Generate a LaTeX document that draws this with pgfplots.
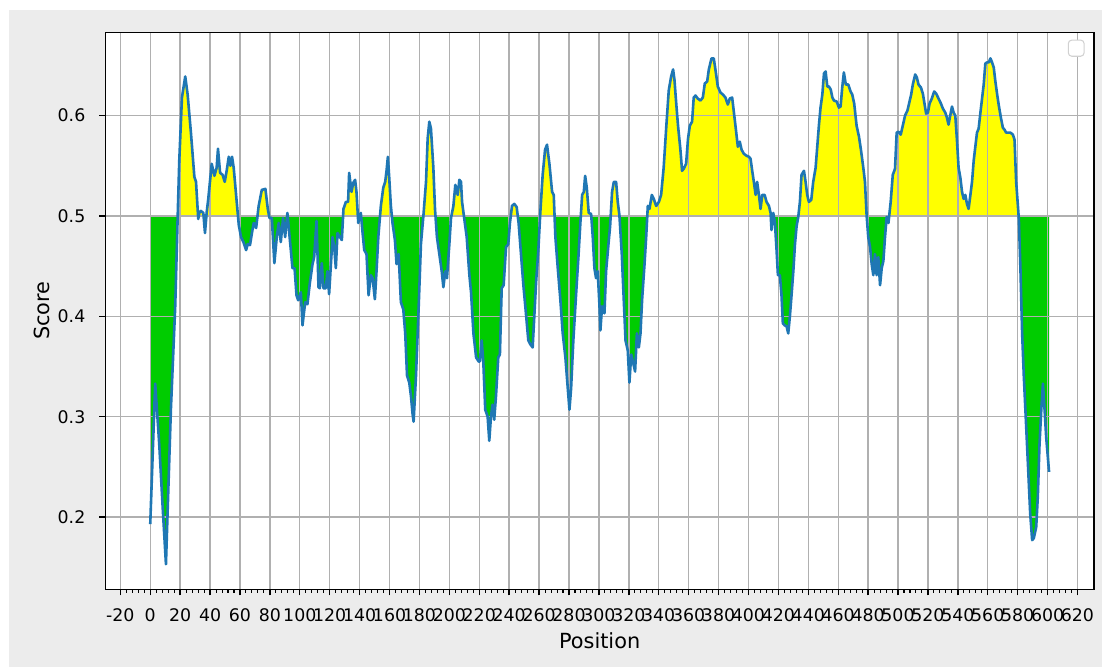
\documentclass[border=0pt]{standalone}
\usepackage{fontspec}
\setmainfont{DejaVu Sans}
\usepackage{pgfplots}
\pgfplotsset{compat=1.18}
\usepackage{pgfplotstable}
\definecolor{mplblue}{HTML}{1F77B4}
\definecolor{fillgreen}{HTML}{00CC00}
\definecolor{fillyellow}{HTML}{FFFF00}
\definecolor{figgray}{HTML}{ECECEC}
\definecolor{gridgray}{HTML}{B0B0B0}

\pgfplotstableread{
pos score
0 0.193
3.3 0.333
6.0 0.273
8.3 0.210
10.5 0.153
13.8 0.307
16.7 0.410
18.3 0.497
19.4 0.555
21.2 0.618
23.4 0.639
25 0.621
27.2 0.583
29.5 0.539
30.6 0.534
32.1 0.497
32.8 0.503
33.9 0.505
35.5 0.503
36.6 0.483
37.7 0.503
38.8 0.517
41.1 0.552
42.9 0.540
44.4 0.548
45.3 0.567
46.7 0.543
48.4 0.541
49.8 0.534
51.1 0.545
52.5 0.559
53.6 0.550
54.7 0.559
55.8 0.548
57.4 0.521
59.2 0.491
60.7 0.479
62.3 0.474
64.1 0.466
65.2 0.472
66.7 0.471
68.1 0.484
69.2 0.493
70.8 0.488
72.5 0.510
74.6 0.526
77 0.527
78.6 0.507
79.7 0.498
81.3 0.498
83 0.453
84.6 0.479
85.9 0.493
87.3 0.474
88.8 0.498
90.2 0.479
91.7 0.503
94.0 0.466
95.1 0.448
96.5 0.448
97.8 0.421
98.9 0.416
100.7 0.424
101.8 0.391
103.6 0.414
105.1 0.412
106.7 0.433
108.5 0.452
109.6 0.459
111.2 0.495
112.5 0.429
113.4 0.428
114.7 0.453
115.8 0.428
117.4 0.428
118.5 0.445
119.6 0.422
120.8 0.452
121.9 0.479
123.0 0.469
124.1 0.448
125.2 0.483
126.8 0.479
128.1 0.476
129.2 0.507
130.8 0.514
132.3 0.514
133.0 0.543
134.6 0.524
135.7 0.533
137.0 0.536
137.9 0.524
139.1 0.493
140.8 0.503
142.0 0.483
143.1 0.466
144.6 0.462
146.0 0.421
147.5 0.441
148.7 0.438
150.2 0.417
151.3 0.445
152.5 0.479
154.2 0.510
155.8 0.528
157.1 0.534
158.0 0.545
158.9 0.559
159.8 0.538
160.9 0.510
162.0 0.493
163.6 0.476
164.7 0.452
166.1 0.462
167.6 0.414
169.2 0.407
170.5 0.383
171.7 0.341
173.2 0.334
174.3 0.321
175.4 0.303
176.1 0.295
177.7 0.341
179.5 0.410
181.0 0.472
182.8 0.503
184.4 0.534
185.5 0.577
186.6 0.594
187.7 0.587
189.3 0.548
190.4 0.507
191.7 0.479
193.3 0.462
194.9 0.445
196.0 0.429
197.3 0.445
198.4 0.438
200.0 0.472
201.1 0.498
202.7 0.510
204.0 0.531
205.6 0.521
206.7 0.536
207.8 0.534
208.5 0.514
210.0 0.497
211.6 0.479
213.4 0.441
214.5 0.424
216.1 0.383
217.9 0.359
219.6 0.355
220.4 0.355
221.6 0.376
222.7 0.355
224.0 0.307
225.6 0.300
226.7 0.276
227.8 0.300
228.9 0.312
230.0 0.297
231.2 0.321
232.7 0.359
233.8 0.362
235.0 0.428
236.3 0.431
237.9 0.469
239.4 0.472
240.5 0.493
241.9 0.510
243.4 0.512
245.0 0.509
246.3 0.493
247.9 0.462
249.5 0.431
251.2 0.403
252.8 0.376
254.2 0.372
255.7 0.369
256.8 0.400
258.0 0.434
259.5 0.466
260.8 0.503
262.4 0.541
264.0 0.566
265.3 0.571
266.9 0.552
268.7 0.524
269.8 0.521
270.9 0.479
272.5 0.448
274.2 0.417
275.8 0.383
277.6 0.359
279.2 0.328
280.3 0.307
281.4 0.328
282.9 0.376
284.7 0.421
286.3 0.459
287.6 0.493
288.8 0.521
289.9 0.524
290.8 0.540
291.9 0.528
293.2 0.503
294.8 0.502
295.9 0.479
297.0 0.448
298.1 0.438
299.2 0.445
300.4 0.410
301.0 0.386
302.1 0.410
303.7 0.403
304.8 0.445
306.4 0.472
307.5 0.490
308.8 0.524
310.0 0.534
311.5 0.534
312.6 0.514
313.7 0.501
315.3 0.462
316.4 0.424
317.8 0.376
319.3 0.366
320.4 0.334
321.6 0.362
322.7 0.355
324.2 0.345
325.4 0.383
326.7 0.369
327.8 0.383
328.9 0.417
330.5 0.452
331.6 0.479
332.7 0.510
333.8 0.507
335.4 0.521
336.7 0.517
338.3 0.510
340.1 0.514
341.6 0.521
343.3 0.548
345.1 0.590
346.7 0.625
348.3 0.639
349.6 0.646
350.5 0.636
351.6 0.614
352.9 0.590
354.5 0.566
355.6 0.545
356.7 0.547
358.3 0.552
359.6 0.577
360.8 0.590
362.3 0.594
363.4 0.618
364.6 0.620
366.1 0.617
367.9 0.615
369.5 0.618
370.8 0.632
372.4 0.634
373.5 0.646
375.3 0.657
376.8 0.657
377.9 0.646
379.5 0.629
381.3 0.623
382.9 0.621
384.6 0.618
386.2 0.611
387.5 0.617
389.1 0.618
390.2 0.604
391.3 0.590
392.9 0.569
394.2 0.574
395.4 0.566
396.9 0.562
398.7 0.560
400.3 0.559
401.4 0.557
402.5 0.545
403.6 0.534
404.8 0.521
405.8 0.534
407.0 0.521
408.1 0.507
409.2 0.521
410.8 0.521
412.1 0.514
413.7 0.510
414.8 0.503
415.4 0.486
416.6 0.503
417.7 0.493
418.8 0.466
419.7 0.441
421.0 0.441
422.1 0.421
423.0 0.393
424.2 0.391
425.5 0.390
426.6 0.383
427.7 0.400
428.8 0.421
430.0 0.445
431.1 0.472
432.2 0.490
433.3 0.499
434.4 0.514
435.5 0.541
437.1 0.545
438.2 0.534
439.3 0.521
440.4 0.514
442.0 0.516
443.3 0.534
444.9 0.548
446.0 0.569
447.1 0.590
448.2 0.608
449.4 0.621
450.5 0.642
451.6 0.644
452.7 0.629
453.8 0.629
455.0 0.626
456.1 0.618
457.2 0.615
459.0 0.614
460.5 0.608
461.6 0.609
462.7 0.628
463.8 0.643
465.1 0.631
466.7 0.631
468.3 0.624
469.4 0.621
470.7 0.612
472.3 0.590
473.9 0.579
475.2 0.566
476.8 0.548
477.9 0.534
479.0 0.501
480.1 0.479
481.3 0.469
482.4 0.452
483.5 0.441
484.6 0.462
485.7 0.441
486.8 0.459
488.0 0.431
489.1 0.448
490.2 0.455
491.3 0.479
492.4 0.499
493.6 0.493
495.1 0.514
496.5 0.541
498.0 0.547
499.1 0.583
500.3 0.584
501.8 0.581
503.2 0.590
504.7 0.600
506.3 0.605
507.4 0.612
508.8 0.621
509.9 0.631
511.5 0.641
512.6 0.638
513.7 0.631
515.3 0.628
516.6 0.622
517.7 0.612
518.8 0.602
520.0 0.603
521.1 0.612
522.6 0.617
524.2 0.624
525.5 0.622
527.1 0.617
528.7 0.612
530.0 0.607
531.6 0.603
532.7 0.598
533.8 0.591
534.9 0.600
536.1 0.609
537.2 0.603
538.3 0.600
539.4 0.576
540.5 0.548
541.7 0.538
542.8 0.524
543.9 0.517
545.0 0.521
546.1 0.512
547.2 0.507
548.4 0.521
549.5 0.534
550.6 0.555
551.7 0.569
552.8 0.583
553.9 0.587
555.1 0.603
556.2 0.617
557.3 0.631
558.4 0.652
559.6 0.653
560.7 0.653
561.8 0.657
562.9 0.653
564.0 0.648
565.1 0.634
566.3 0.621
567.4 0.610
568.9 0.597
570.1 0.588
571.2 0.586
572.3 0.583
573.6 0.583
575.2 0.583
576.8 0.581
577.9 0.576
579.0 0.534
580.8 0.497
581.9 0.445
583.0 0.383
584.1 0.341
585.7 0.290
586.8 0.255
588.4 0.203
589.7 0.177
590.8 0.179
592.4 0.190
593.5 0.221
594.6 0.272
595.8 0.307
596.9 0.333
598.0 0.307
599.1 0.279
601.0 0.245
}\scoredata

\pagecolor{figgray}
\begin{document}
\begin{tikzpicture}
\path (0,0) rectangle (793.44pt,480.24pt);
\fill[white] (0,0) rectangle (6.48pt,480.24pt);
\fill[white] (0,473.04pt) rectangle (793.44pt,480.24pt);
\fill[white] (75.82pt,55.94pt) rectangle ++(711.86pt,401.04pt);
% upper region (score above 0.5): yellow fill, clipped to the axis box
\begin{axis}[
  at={(75.82pt,324.75pt)}, anchor=south west,
  scale only axis, width=711.86pt, height=132.23pt,
  xmin=-30.05, xmax=631.05, ymin=0.5, ymax=0.683,
  hide axis, clip=true,
]
\addplot[fill=fillyellow, draw=none] table[x=pos, y=score] {\scoredata} -- (axis cs:601,0.5) -- (axis cs:0,0.5) -- cycle;
\end{axis}
% lower region (score below 0.5): green fill, clipped to the axis box
\begin{axis}[
  at={(75.82pt,55.94pt)}, anchor=south west,
  scale only axis, width=711.86pt, height=268.81pt,
  xmin=-30.05, xmax=631.05, ymin=0.128, ymax=0.5,
  hide axis, clip=true,
]
\addplot[fill=fillgreen, draw=none] table[x=pos, y=score] {\scoredata} -- (axis cs:601,0.5) -- (axis cs:0,0.5) -- cycle;
\end{axis}
\begin{axis}[
  at={(75.82pt,55.94pt)}, anchor=south west,
  scale only axis, width=711.86pt, height=401.04pt,
  xmin=-30.05, xmax=631.05, ymin=0.128, ymax=0.683,
  xtick={-20,0,...,620},
  ytick={0.2,0.3,0.4,0.5,0.6},
  minor x tick num=4,
  xtick pos=bottom, ytick pos=left,
  tick align=outside,
  major tick length=4.4pt, minor tick length=2.5pt,
  tick style={black, line width=1pt},
  minor tick style={black, line width=0.75pt},
  grid=major,
  major grid style={gridgray, line width=1pt},
  axis line style={black, line width=1pt},
  /pgf/number format/assume math mode=true,
  scaled y ticks=false,
  yticklabel style={/pgf/number format/fixed, /pgf/number format/fixed zerofill, /pgf/number format/precision=1,
    font=\fontsize{12.5}{15}\selectfont, anchor=east, inner sep=0pt, xshift=-9.8pt},
  xticklabel style={font=\fontsize{12.5}{15}\selectfont, anchor=north, inner sep=0pt, yshift=-9.6pt},
  xlabel={Position}, ylabel={Score},
  xlabel style={font=\fontsize{15}{18}\selectfont, at={(rel axis cs:0.5,-0.1054)}, anchor=base},
  ylabel style={font=\fontsize{15}{18}\selectfont, at={(rel axis cs:-0.0569,0.5)}, anchor=base},
]
\addplot[mplblue, line width=1.875pt, line join=round] table[x=pos, y=score] {\scoredata};
\draw[draw=black!18, fill=white, rounded corners=2.5pt, line width=0.75pt] (rel axis cs:0.974,0.957) rectangle (rel axis cs:0.990,0.986);
\end{axis}
\end{tikzpicture}
\end{document}
